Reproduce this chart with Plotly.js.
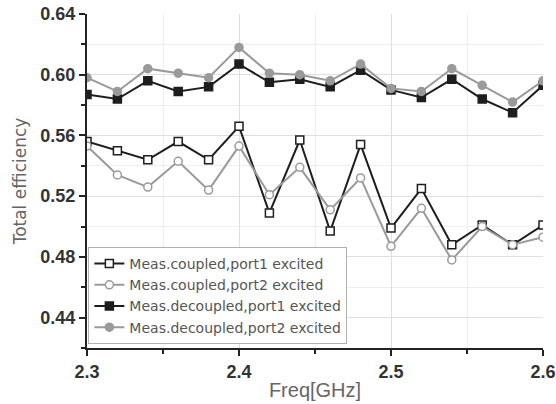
<!DOCTYPE html>
<html>
<head>
<meta charset="utf-8">
<script src="https://cdn.plot.ly/plotly-3.0.1.min.js"></script>
<style>html,body{margin:0;padding:0;background:#fff;}#chart{width:556px;height:404px;}</style>
</head>
<body>
<div id="chart"></div>
<script>
var freq = [2.30, 2.32, 2.34, 2.36, 2.38, 2.40, 2.42, 2.44, 2.46, 2.48, 2.50, 2.52, 2.54, 2.56, 2.58, 2.60];
var coupledPort1 = [0.556, 0.550, 0.544, 0.556, 0.544, 0.566, 0.509, 0.557, 0.497, 0.554, 0.499, 0.525, 0.488, 0.501, 0.488, 0.501];
var coupledPort2 = [0.553, 0.534, 0.526, 0.543, 0.524, 0.553, 0.521, 0.539, 0.511, 0.532, 0.487, 0.512, 0.478, 0.500, 0.488, 0.493];
var decoupledPort1 = [0.587, 0.584, 0.596, 0.589, 0.592, 0.607, 0.595, 0.597, 0.592, 0.603, 0.590, 0.585, 0.597, 0.584, 0.575, 0.593];
var decoupledPort2 = [0.598, 0.589, 0.604, 0.601, 0.598, 0.618, 0.601, 0.600, 0.596, 0.607, 0.591, 0.589, 0.604, 0.593, 0.582, 0.596];
var names = ["Meas.coupled,port1 excited", "Meas.coupled,port2 excited", "Meas.decoupled,port1 excited", "Meas.decoupled,port2 excited"];
var xTicks = [2.3, 2.4, 2.5, 2.6];
var xTickText = ["2.3", "2.4", "2.5", "2.6"];
var yTicks = [0.44, 0.48, 0.52, 0.56, 0.60, 0.64];
var yTickText = ["0.44", "0.48", "0.52", "0.56", "0.60", "0.64"];

var dark = "#1e1e1e", grey = "#9a9a9a";
var FONT = "Liberation Sans, Arial, sans-serif";
var WIDE = "DejaVu Sans, sans-serif";
function tr(y, name, color, symbol, fill) {
  return {
    x: freq, y: y, name: name, type: "scatter", mode: "lines+markers",
    line: {color: color, width: 2},
    marker: {symbol: symbol, size: 8, color: fill ? color : "#ffffff",
             line: {color: color, width: 1.5}}
  };
}
var data = [
  tr(coupledPort1, names[0], dark, "square", false),
  tr(coupledPort2, names[1], grey, "circle", false),
  tr(decoupledPort1, names[2], dark, "square", true),
  tr(decoupledPort2, names[3], grey, "circle", true)
];
var layout = {
  width: 556, height: 404,
  margin: {l: 87, r: 13, t: 14, b: 56},
  paper_bgcolor: "#ffffff", plot_bgcolor: "#ffffff",
  showlegend: true,
  legend: {x: 0.003, y: 0.012, xanchor: "left", yanchor: "bottom",
           bgcolor: "#ffffff", bordercolor: "#b0b0b0", borderwidth: 1,
           font: {family: WIDE, size: 14, color: "#555555"},
           tracegroupgap: 0, itemwidth: 30},
  xaxis: {
    range: [2.3, 2.6], tickvals: xTicks, ticktext: xTickText,
    showline: true, linecolor: "#222", linewidth: 2, mirror: false,
    ticks: "outside", ticklen: 6, tickwidth: 2, tickcolor: "#222",
    showgrid: true, gridcolor: "#dcdfe6", gridwidth: 1, zeroline: false,
    minor: {dtick: 0.05, ticks: "outside", ticklen: 4, tickwidth: 2, tickcolor: "#222", showgrid: true, gridcolor: "#eceef2"},
    tickfont: {family: FONT, size: 18, color: "#333", weight: "bold"},
    title: {text: "Freq[GHz]", standoff: 2,
            font: {family: FONT, size: 20, color: "#666"}}
  },
  yaxis: {
    range: [0.42, 0.64], tickvals: yTicks, ticktext: yTickText,
    showline: true, linecolor: "#222", linewidth: 2,
    ticks: "outside", ticklen: 6, tickwidth: 2, tickcolor: "#222",
    showgrid: true, gridcolor: "#dcdfe6", gridwidth: 1, zeroline: false,
    minor: {dtick: 0.02, ticks: "outside", ticklen: 4, tickwidth: 2, tickcolor: "#222", showgrid: true, gridcolor: "#eceef2"},
    tickfont: {family: FONT, size: 18, color: "#333", weight: "bold"},
    title: {text: "Total efficiency", standoff: 9,
            font: {family: WIDE, size: 17, color: "#666"}}
  }
};
Plotly.newPlot("chart", data, layout, {displayModeBar: false, staticPlot: true});
</script>
</body>
</html>
